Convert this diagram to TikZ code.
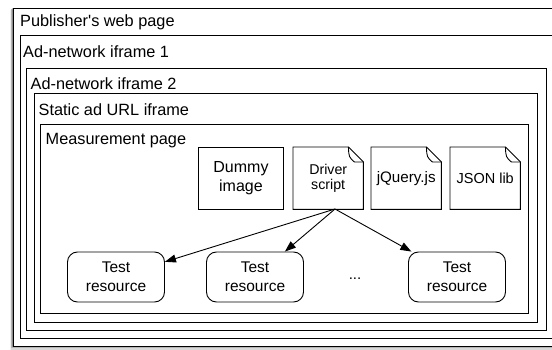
\documentclass[tikz,border=0pt]{standalone}
\usepackage{fontspec}
\setmainfont{Liberation Sans}
\usetikzlibrary{arrows.meta,calc}
\begin{document}
\begin{tikzpicture}[x=1pt,y=-1pt,
  frame/.style={draw=black, line width=0.9pt, fill=white, rectangle, anchor=north west, inner sep=0pt},
  lbl/.style={anchor=base west, inner sep=0pt, font=\fontsize{16.3}{19}\selectfont},
  plainbox/.style={draw=black, line width=0.9pt, rectangle, anchor=north west, inner sep=0pt, minimum height=62pt, align=center},
  docbox/.style={rectangle, anchor=north west, inner sep=0pt, minimum width=70pt, minimum height=62pt, align=center},
  docline/.style={draw=black, line width=0.9pt, line join=miter},
  tres/.style={draw=black, line width=0.9pt, rounded corners=10pt, minimum width=97pt, minimum height=50pt, inner sep=0pt, align=center, font=\fontsize{15.5}{19}\selectfont},
  arr/.style={draw=black, line width=0.9pt, -{Triangle[length=11pt,width=8pt]}}]
\useasboundingbox (0,0) rectangle (552,350);
\clip (0,0) rectangle (552,350);
% shadow of the outer frame
\foreach \d/\o in {4/0.06,3/0.10,2/0.16,1/0.22}{
  \fill[black, opacity=\o] (13-\d*0.8,8+\d*0.5) rectangle (562,346+\d*1.2);
}
\node[frame, minimum width=549pt, minimum height=338pt] (pub) at (13,8) {};
\node[frame, minimum width=535pt, minimum height=303pt] (if1) at (20,35) {};
\node[frame, minimum width=520pt, minimum height=262pt] (if2) at (26,68) {};
\node[frame, minimum width=503pt, minimum height=229pt] (stat) at (34,93) {};
\node[frame, minimum width=488pt, minimum height=189pt] (meas) at (40,124) {};

\node[lbl] (lpub) at (20,26.7) {Publisher\textquotesingle s web page};
\node[lbl] (lif1) at (23,57.4) {Ad-network iframe 1};
\node[lbl] (lif2) at (30.5,90) {Ad-network iframe 2};
\node[lbl] (lstat) at (38.5,115.7) {Static ad URL iframe};
\node[lbl] (lmeas) at (45.5,145) {Measurement page};

\node[plainbox, minimum width=85pt, font=\fontsize{16}{19}\selectfont] (dummy) at (198,147) {Dummy\\image};
\node[docbox, font=\fontsize{14.2}{15.5}\selectfont] (drv) at (293,147) {Driver\\script};
\node[docbox, font=\fontsize{15.2}{18}\selectfont] (jq) at (371,147) {jQuery.js};
\node[docbox, font=\fontsize{14.5}{18}\selectfont] (json) at (450,147) {JSON lib};
\foreach \n in {drv,jq,json}{
  \draw[docline] (\n.north west) -- ($(\n.north east)+(-15,0)$) -- ($(\n.north east)+(0,15)$) -- (\n.south east) -- (\n.south west) -- cycle;
  \draw[docline] ($(\n.north east)+(-15,0)$) .. controls ($(\n.north east)+(-14.5,10)$) .. ($(\n.north east)+(-9,15)$) -- ($(\n.north east)+(0,15)$);
}

\node[tres] (tr1) at (116,277) {Test\\resource};
\node[tres] (tr2) at (255,277) {Test\\resource};
\node[tres] (tr3) at (457,277) {Test\\resource};
\node[anchor=base, inner sep=0pt, font=\fontsize{15}{18}\selectfont] (dots) at (355,279) {...};

\coordinate (src) at (335,209);
\draw[arr] (src) -- (tr1);
\draw[arr] (src) -- (tr2);
\draw[arr] (src) -- (tr3);
\end{tikzpicture}
\end{document}
